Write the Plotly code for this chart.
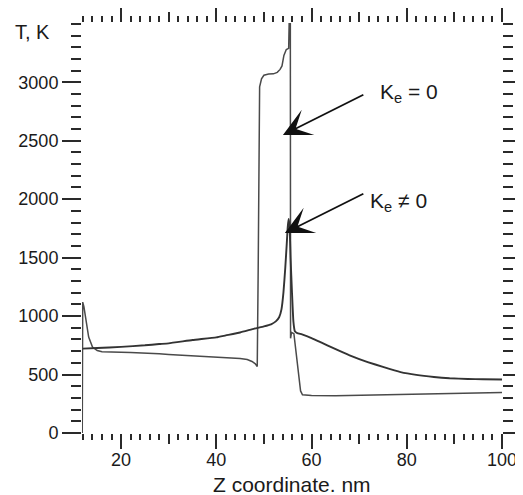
import plotly.graph_objects as go

# Curve K_e = 0 (sharp profile)
z_ke0 = [11.85, 11.95, 12.2, 12.6, 13.2, 14.0, 15.0, 16.0, 18.0, 20.0, 22.0, 25.0, 28.0, 30.0,
         33.0, 35.0, 38.0, 40.0, 43.0, 45.0, 46.5, 47.5, 48.2, 48.6, 48.8, 48.95, 49.1, 49.5,
         50.0, 51.0, 52.0, 52.8, 53.4, 53.8, 54.2, 54.7, 55.2, 55.35, 55.55, 55.6, 55.8, 56.3,
         56.8, 57.3, 57.7, 58.1, 60.0, 65.0, 70.0, 75.0, 80.0, 85.0, 90.0, 95.0, 100.0]
t_ke0 = [0, 1120, 1080, 960, 820, 735, 705, 695, 690, 690, 688, 685, 678, 672,
         665, 658, 650, 645, 643, 638, 628, 612, 592, 568, 1400, 2600, 2960, 3030,
         3060, 3070, 3072, 3085, 3110, 3140, 3230, 3280, 3290, 3600, 3600, 810, 860, 850,
         680, 480, 360, 327, 320, 318, 322, 326, 330, 334, 338, 342, 347]

# Curve K_e != 0 (smooth profile)
z_ke1 = [11.95, 15.0, 20.0, 25.0, 28.0, 30.0, 35.0, 40.0, 42.0, 45.0, 48.0, 50.0, 51.5, 52.5,
         53.2, 53.7, 54.1, 54.5, 54.8, 55.0, 55.2, 55.4, 55.6, 55.9, 56.2, 56.5, 57.0, 58.0,
         60.0, 62.0, 64.6, 68.0, 71.8, 75.0, 78.7, 82.0, 85.7, 89.0, 92.8, 96.0, 100.0]
t_ke1 = [722, 727, 737, 750, 761, 767, 795, 818, 835, 860, 893, 912, 930, 955,
         990, 1060, 1200, 1420, 1620, 1760, 1830, 1760, 1500, 1200, 950, 870, 855, 843,
         812, 775, 726, 665, 607, 565, 521, 497, 479, 468, 462, 460, 458]

x_major = [20, 40, 60, 80, 100]
x_medium = [30, 50, 70, 90]
y_major = [0, 500, 1000, 1500, 2000, 2500, 3000]

FONT = "Liberation Sans, Arial, Helvetica, sans-serif"
INK = "#1a1a1a"
TICK = "#2a2a2a"

fig = go.Figure()
fig.add_trace(go.Scatter(x=z_ke0, y=t_ke0, mode="lines",
                         line=dict(color="#4a4a4a", width=1.5), showlegend=False))
fig.add_trace(go.Scatter(x=z_ke1, y=t_ke1, mode="lines",
                         line=dict(color="#333333", width=1.9, shape="spline", smoothing=0.4),
                         showlegend=False))
# helper trace so the overlay axis (medium ticks) is drawn
fig.add_trace(go.Scatter(x=[None], y=[None], xaxis="x2", yaxis="y", showlegend=False,
                         hoverinfo="skip"))

# the page body adds an 8px offset, margins compensate for it
fig.update_layout(
    width=523, height=495,
    margin=dict(l=74, r=29, t=15, b=70, autoexpand=False),
    paper_bgcolor="white", plot_bgcolor="white",
    font=dict(family=FONT, size=18, color=INK),
    xaxis=dict(range=[11.8, 100], tickmode="array", tickvals=x_major, automargin=False,
               ticks="outside", ticklen=15, tickwidth=2, tickcolor=TICK,
               ticklabelstandoff=-5,
               showline=False, showgrid=False, zeroline=False, mirror="ticks",
               tickfont=dict(size=18, color=INK),
               minor=dict(dtick=2, tick0=0, ticks="outside", ticklen=6, tickwidth=2,
                          tickcolor=TICK, showgrid=False)),
    xaxis2=dict(range=[11.8, 100], overlaying="x", anchor="y", side="bottom", automargin=False,
                tickmode="array", tickvals=x_medium, ticks="outside", ticklen=10,
                tickwidth=2, tickcolor=TICK, showticklabels=False, showgrid=False,
                zeroline=False, showline=False, mirror="ticks"),
    yaxis=dict(range=[0, 3507], tickmode="array", tickvals=y_major, automargin=False,
               ticks="outside", ticklen=19, tickwidth=2, tickcolor=TICK,
               showline=False, showgrid=False, zeroline=False, mirror="ticks",
               tickfont=dict(size=18, color=INK),
               minor=dict(dtick=100, tick0=0, ticks="outside", ticklen=10, tickwidth=2,
                          tickcolor=TICK, showgrid=False)),
)

# axis titles
fig.add_annotation(text="T, K", xref="paper", yref="y", x=-0.072, y=3430,
                   xanchor="right", yanchor="middle", showarrow=False,
                   font=dict(size=20, color=INK, family=FONT))
fig.add_annotation(text="Z coordinate. nm", xref="paper", yref="paper", x=0.5, y=-0.126,
                   xanchor="center", yanchor="middle", showarrow=False,
                   font=dict(size=21, color=INK, family=FONT))

# arrows
fig.add_annotation(x=54.0, y=2549, ax=71.2, ay=2900, xref="x", yref="y", axref="x", ayref="y",
                   text="", showarrow=True, arrowhead=3, arrowsize=2.6, arrowwidth=1.8,
                   arrowcolor="#111111")
fig.add_annotation(x=54.4, y=1711, ax=71.2, ay=2053, xref="x", yref="y", axref="x", ayref="y",
                   text="", showarrow=True, arrowhead=3, arrowsize=2.6, arrowwidth=1.8,
                   arrowcolor="#111111")
# labels
fig.add_annotation(text="K<sub>e</sub> = 0", x=73.9, y=2910, xref="x", yref="y",
                   xanchor="left", yanchor="middle", showarrow=False,
                   font=dict(size=21, color=INK, family=FONT))
fig.add_annotation(text="K<sub>e</sub> ≠ 0", x=71.9, y=1975, xref="x", yref="y",
                   xanchor="left", yanchor="middle", showarrow=False,
                   font=dict(size=21, color=INK, family=FONT))

fig.write_html("out.html")
